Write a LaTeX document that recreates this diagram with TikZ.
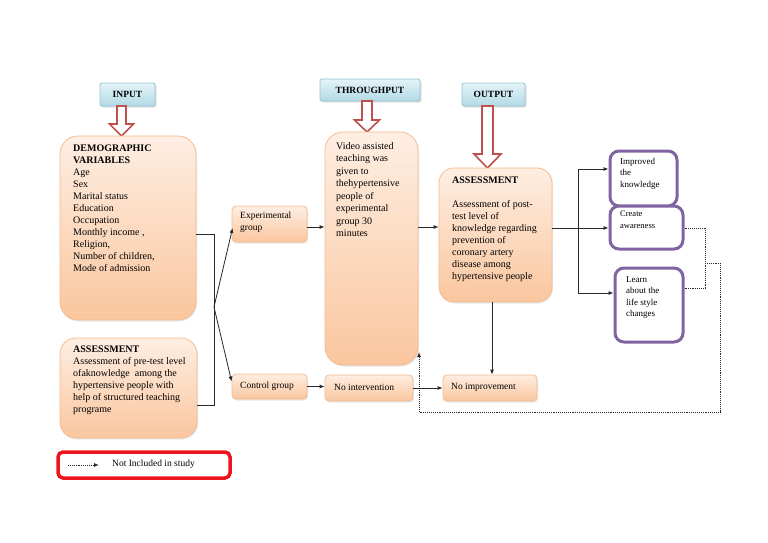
\documentclass[tikz,border=0pt]{standalone}
\usepackage{fontspec}
\setmainfont{Liberation Serif}
\usetikzlibrary{arrows.meta,calc,shadows}
\definecolor{peachT}{RGB}{254,238,226}
\definecolor{peachB}{RGB}{250,198,158}
\definecolor{peachD}{RGB}{244,188,146}
\definecolor{blueT}{RGB}{228,244,248}
\definecolor{blueB}{RGB}{178,218,230}
\definecolor{blueD}{RGB}{150,196,212}
\definecolor{purp}{RGB}{128,100,162}
\definecolor{redA}{RGB}{192,80,77}
\definecolor{redL}{RGB}{236,20,30}
\definecolor{lin}{RGB}{40,40,40}
\tikzset{
  peach/.style={draw=peachD, line width=0.8pt, top color=peachT, bottom color=peachB,
     rounded corners=#1, inner sep=0pt,
     drop shadow={opacity=0.18, shadow xshift=1pt, shadow yshift=-1.5pt}},
  peach/.default=5pt,
  bluebox/.style={draw=blueD, line width=0.8pt, top color=blueT, bottom color=blueB,
     rounded corners=2pt, inner sep=0pt, font=\fontsize{9.5}{11}\selectfont\bfseries,
     drop shadow={opacity=0.25, shadow xshift=1.5pt, shadow yshift=-1.5pt}},
  purpbox/.style={draw=purp, line width=3pt, fill=white, rounded corners=9pt, inner sep=0pt},
  txt/.style={anchor=north west, inner sep=0pt, align=left, font=\fontsize{10}{12}\selectfont},
  stxt/.style={anchor=north west, inner sep=0pt, align=left, font=\fontsize{9}{11.5}\selectfont},
  conn/.style={draw=lin, line width=0.8pt},
  arr/.style={conn, -{Latex[length=5pt,width=4pt]}},
  dotl/.style={draw=lin, line width=0.9pt, densely dotted},
  harrow/.style={draw=redA, line width=1.6pt, fill=white, line join=miter},
}
\newcommand{\hArrow}[6]{%
  \draw[harrow] (#1-#5,#2) -- (#1+#5,#2) -- (#1+#5,#3-#4) -- (#1+#6,#3-#4) -- (#1,#3)
     -- (#1-#6,#3-#4) -- (#1-#5,#3-#4) -- cycle;}
\begin{document}
\begin{tikzpicture}[x=1pt,y=-1pt]
\path[use as bounding box, fill=white] (0,0) rectangle (768,543);

% header boxes
\node[bluebox, minimum width=55pt, minimum height=23pt] (inp) at (127.5,94.5) {INPUT};
\node[bluebox, minimum width=100pt, minimum height=22pt] (thr) at (370,90) {THROUGHPUT};
\node[bluebox, minimum width=63pt, minimum height=23pt] (outp) at (493.5,94.5) {OUTPUT};

% hollow arrows
\hArrow{121.5}{106}{136}{12}{4.5}{12}
\hArrow{367}{101}{132}{12}{5}{12.5}
\hArrow{487.5}{106}{168}{14}{5.5}{13.5}

% left column
\node[peach=18pt, minimum width=136pt, minimum height=184pt] (demo) at (128,228) {};
\node[txt] (demot) at (73,145) {\textbf{DEMOGRAPHIC}\\\textbf{VARIABLES}\\Age\\Sex\\Marital status\\Education\\Occupation\\Monthly income ,\\Religion,\\Number of children,\\Mode of admission};

\node[peach=16pt, minimum width=137pt, minimum height=100pt] (pre) at (128.5,388) {};
\node[txt] (pret) at (73,346) {\textbf{ASSESSMENT}\\Assessment of pre-test level\\ofaknowledge\ \ among the\\hypertensive people with\\help of structured teaching\\programe};

% legend
\node[draw=redL, line width=3.5pt, rounded corners=5pt, minimum width=172pt, minimum height=26pt, fill=white] (leg) at (144,465) {};
\coordinate (la) at (68,465);
\coordinate (lb) at (99,465);
\draw[dotl, -{Latex[length=5pt,width=4pt]}] (la) -- (lb);
\node[anchor=west, inner sep=0pt, font=\fontsize{9.5}{11}\selectfont] (legt) at (112,464) {Not Included in study};

% groups
\node[peach=4pt, minimum width=75pt, minimum height=36pt] (exp) at (269.5,224) {};
\node[stxt, font=\fontsize{9.5}{11.5}\selectfont] (expt) at (240,212) {Experimental\\group};
\node[peach=4pt, minimum width=75pt, minimum height=25pt] (ctrl) at (269.5,386.5) {};
\node[anchor=west, inner sep=0pt, font=\fontsize{9.5}{11}\selectfont] (ctrlt) at (240,386) {Control group};

% throughput
\node[peach=18pt, minimum width=93pt, minimum height=233pt] (vid) at (371.5,248.5) {};
\node[txt, font=\fontsize{10}{12.5}\selectfont] (vidt) at (336,142) {Video assisted\\teaching was\\given to\\thehypertensive\\people of\\experimental\\group 30\\minutes};
\node[peach=4pt, minimum width=88pt, minimum height=26pt] (noint) at (369,388) {};
\node[anchor=west, inner sep=0pt, font=\fontsize{9.5}{11}\selectfont] (nointt) at (334,387) {No intervention};

% output
\node[peach=15pt, minimum width=113pt, minimum height=134pt] (post) at (495.5,235) {};
\node[txt] (postt) at (452,177) {\textbf{ASSESSMENT}\\[12pt]Assessment of post-\\test level of\\knowledge regarding\\prevention of\\coronary artery\\disease among\\hypertensive people};
\node[peach=4pt, minimum width=94pt, minimum height=26pt] (noimp) at (490,388) {};
\node[anchor=west, inner sep=0pt, font=\fontsize{9.5}{11}\selectfont] (noimpt) at (451,387) {No improvement};

% purple boxes
\node[purpbox, minimum width=67pt, minimum height=55pt] (impr) at (643.5,178.5) {};
\node[stxt] (imprt) at (620,158) {Improved\\the\\knowledge};
\node[purpbox, minimum width=73pt, minimum height=43pt] (awr) at (646.5,227.5) {};
\node[stxt, font=\fontsize{8.5}{11.5}\selectfont] (awrt) at (620,211) {Create\\awareness};
\node[purpbox, minimum width=68pt, minimum height=74pt] (lrn) at (649,305) {};
\node[stxt] (lrnt) at (626,276) {Learn\\about the\\life style\\changes};

% connectors: left bracket
\coordinate (j1) at (214,234);
\coordinate (j2) at (214,405);
\coordinate (jm) at (214,307);
\draw[conn] (demo.east |- j1) -- (j1) -- (j2) -- (pre.east |- j2);
\draw[arr] (jm) -- ($(exp.west)+(1,4)$);
\draw[arr] (jm) -- ($(ctrl.west)+(0,-5)$);

% experimental row
\coordinate (r1) at (300,227);
\draw[arr] (r1 -| exp.east) -- (r1 -| vid.west);
\draw[arr] (r1 -| vid.east) -- (r1 -| post.west);

% control row
\draw[arr] (ctrl.east) -- (ctrl.east -| noint.west);
\draw[arr] (noint.east) -- (noint.east -| noimp.west);
\coordinate (v1) at (492,300);
\draw[arr] (v1 |- post.south) -- (v1 |- noimp.north);

% output branches
\coordinate (br) at (578,228);
\coordinate (bt) at (578,169);
\coordinate (bb) at (578,293);
\draw[conn] (br -| post.east) -- (br);
\draw[arr] (br) -- (br -| awr.west);
\draw[conn] (bt) -- (bb);
\draw[arr] (bt) -- (bt -| impr.west);
\draw[arr] (bb) -- (bb -| lrn.west);

% dotted feedback
\coordinate (d1) at (705,228);
\coordinate (d2) at (705,288);
\coordinate (d3) at (705,263);
\coordinate (d4) at (720,263);
\coordinate (d5) at (720,412);
\coordinate (d6) at (419,412);
\coordinate (d7) at (419,352);
\draw[dotl] (d1 -| awr.east) -- (d1) -- (d2) -- (d2 -| lrn.east);
\draw[dotl, -{Latex[length=5pt,width=4pt]}] (d3) -- (d4) -- (d5) -- (d6) -- (d7);
\end{tikzpicture}
\end{document}
